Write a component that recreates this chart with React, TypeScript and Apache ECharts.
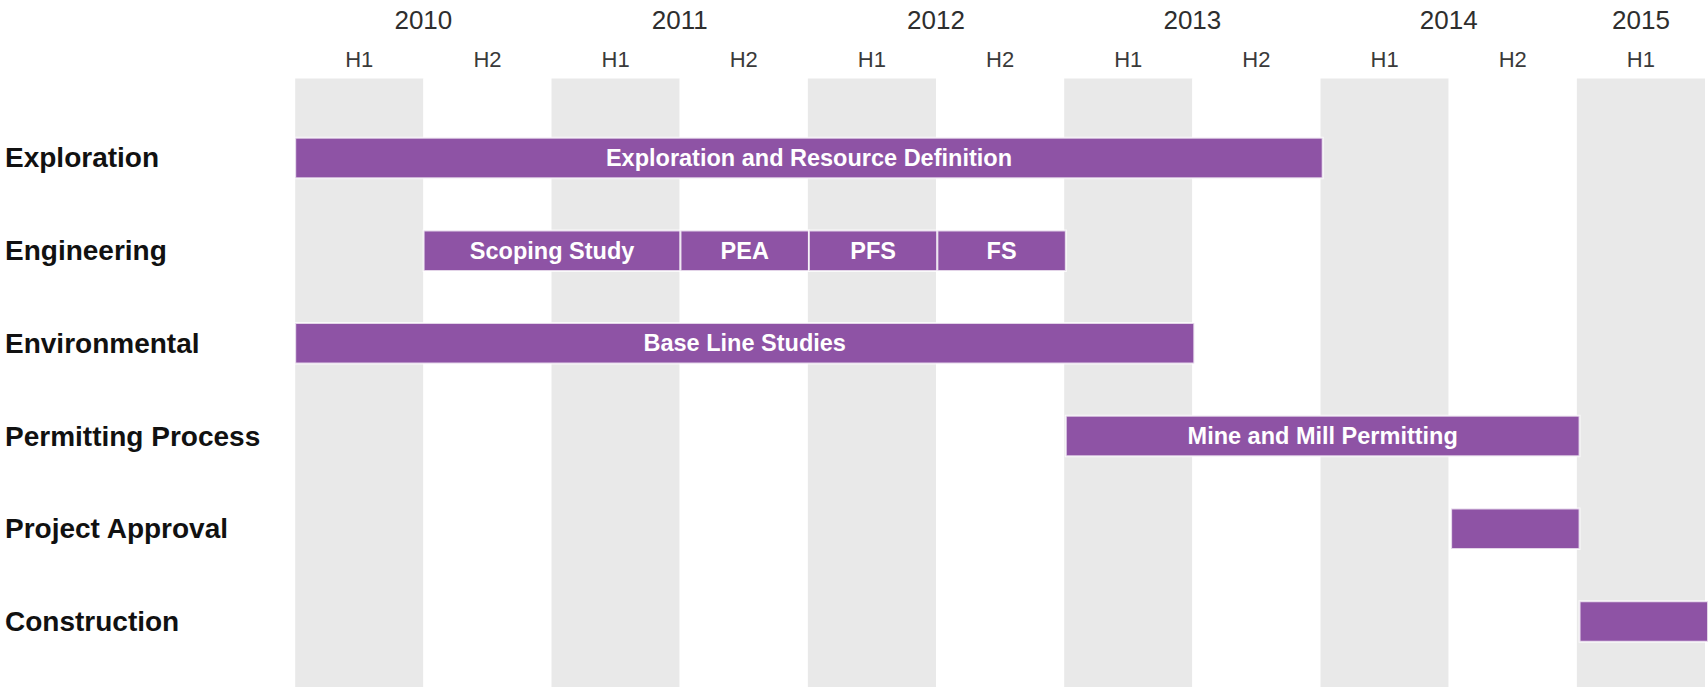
import React, { useEffect, useRef } from "react";
import * as echarts from "echarts";

// ---- Data ----
const rows = [
  "Exploration",
  "Engineering",
  "Environmental",
  "Permitting Process",
  "Project Approval",
  "Construction",
];

const columnYears = ["2010", "2010", "2011", "2011", "2012", "2012", "2013", "2013", "2014", "2014", "2015"];
const columnHalves = ["H1", "H2", "H1", "H2", "H1", "H2", "H1", "H2", "H1", "H2", "H1"];

// tasks: row index, start column, end column (in half-year units), label
const taskRow = [0, 1, 1, 1, 1, 2, 3, 4, 5];
const taskStart = [0, 1, 3, 4, 5, 0, 6, 9, 10];
const taskEnd = [8, 3, 4, 5, 6, 7, 10, 10, 11];
const taskLabel = [
  "Exploration and Resource Definition",
  "Scoping Study",
  "PEA",
  "PFS",
  "FS",
  "Base Line Studies",
  "Mine and Mill Permitting",
  "",
  "",
];

const FONT = "'Liberation Sans', Arial, sans-serif";
const PURPLE = "#8e53a5";

export default function App() {
  const ref = useRef<HTMLDivElement>(null);

  useEffect(() => {
    if (!ref.current) return;
    const chart = echarts.init(ref.current, undefined, { renderer: "svg" });

    // year label positions in quarter units (centre of the columns of each year)
    const yearAtQuarter: Record<number, string> = {};
    const seen: string[] = [];
    columnYears.forEach((y) => {
      if (!seen.includes(y)) seen.push(y);
    });
    seen.forEach((y) => {
      const first = columnYears.indexOf(y);
      const count = columnYears.filter((c) => c === y).length;
      yearAtQuarter[first * 2 + count] = y;
    });

    const data = taskRow.map((r, i) => [r, taskStart[i], taskEnd[i], taskLabel[i]]);

    const gridLeft = 295.2;

    chart.setOption({
      animation: false,
      backgroundColor: "#ffffff",
      textStyle: { fontFamily: FONT },
      grid: [
        { left: gridLeft, right: 0, top: 78.5, bottom: 0 },
        { left: gridLeft, right: 0, top: 111.6, bottom: 19.2 },
      ],
      xAxis: [
        {
          type: "category",
          gridIndex: 0,
          position: "top",
          data: columnHalves,
          boundaryGap: true,
          axisLine: { show: false },
          axisTick: { show: false },
          axisLabel: {
            fontSize: 22,
            color: "#3a3a3a",
            fontFamily: FONT,
            margin: 8,
            interval: 0,
          },
          splitLine: { show: false },
          splitArea: {
            show: true,
            interval: 0,
            areaStyle: { color: ["#e9e9e9", "#ffffff"] },
          },
        },
        {
          type: "value",
          gridIndex: 0,
          position: "top",
          min: 0,
          max: columnYears.length * 2,
          interval: 1,
          offset: 39,
          axisLine: { show: false },
          axisTick: { show: false },
          splitLine: { show: false },
          axisLabel: {
            fontSize: 26,
            color: "#2e2e2e",
            fontFamily: FONT,
            margin: 7,
            showMinLabel: true,
            showMaxLabel: true,
            formatter: (v: number) => yearAtQuarter[Math.round(v)] || "",
          },
        },
        {
          type: "value",
          gridIndex: 1,
          min: 0,
          max: columnHalves.length,
          show: false,
        },
      ],
      yAxis: [
        { type: "value", gridIndex: 0, min: 0, max: 1, show: false },
        {
          type: "category",
          gridIndex: 1,
          data: rows,
          inverse: true,
          axisLine: { show: false },
          axisTick: { show: false },
          splitLine: { show: false },
          axisLabel: {
            fontSize: 28,
            fontWeight: "bold",
            color: "#111111",
            fontFamily: FONT,
            align: "left",
            margin: gridLeft - 5,
          },
        },
      ],
      series: [
        {
          type: "custom",
          xAxisIndex: 2,
          yAxisIndex: 1,
          encode: { x: [1, 2], y: 0 },
          data,
          renderItem: (params: any, api: any) => {
            const row = api.value(0);
            const s = api.value(1);
            const e = api.value(2);
            const label = data[params.dataIndex][3] as string;
            const p0 = api.coord([s, row]);
            const p1 = api.coord([e, row]);
            const h = api.size([0, 1])[1] * 0.437;
            return {
              type: "group",
              children: [
                {
                  type: "rect",
                  shape: { x: p0[0], y: p0[1] - h / 2, width: p1[0] - p0[0], height: h },
                  style: { fill: PURPLE, stroke: "rgba(255,255,255,0.75)", lineWidth: 2 },
                },
                {
                  type: "text",
                  x: (p0[0] + p1[0]) / 2,
                  y: p0[1],
                  style: {
                    text: label,
                    fill: "#ffffff",
                    fontSize: 23.5,
                    fontWeight: "bold",
                    fontFamily: FONT,
                    align: "center",
                    verticalAlign: "middle",
                  },
                },
              ],
            };
          },
        },
      ],
    });

    return () => chart.dispose();
  }, []);

  return (
    <div
      ref={ref}
      style={{ position: "fixed", left: 0, top: 0, width: 1708, height: 687 }}
    />
  );
}
